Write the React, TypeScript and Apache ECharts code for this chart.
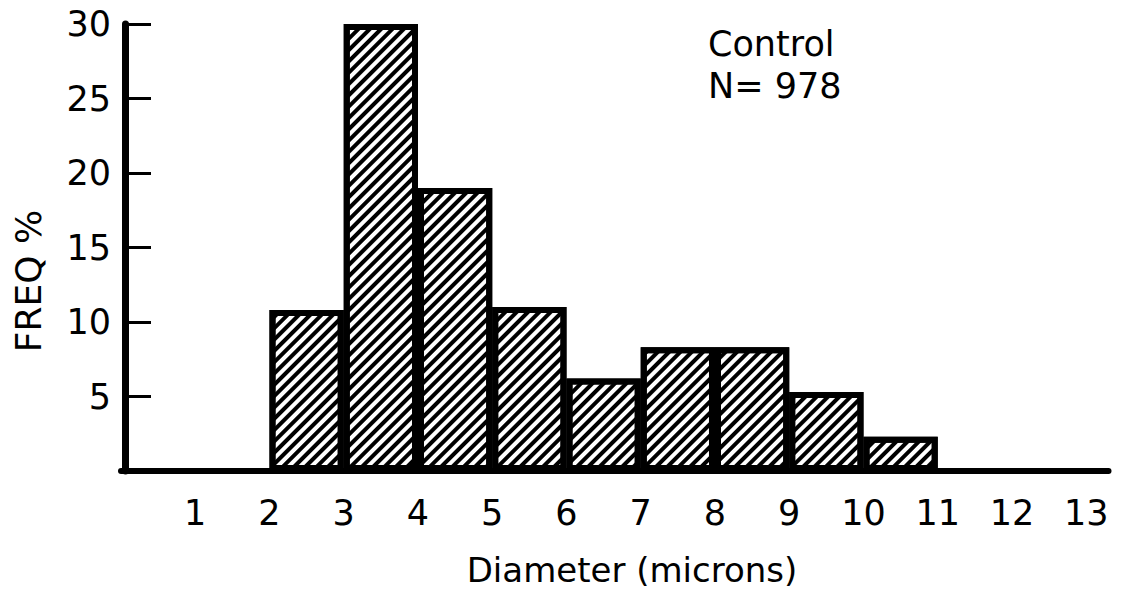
import React, { useEffect, useRef } from "react";
import * as echarts from "echarts";

// ---- data ----
const binStarts = [2, 3, 4, 5, 6, 7, 8, 9, 10];
const binWidth = 1;
const freqPercent = [10.8, 30, 19, 11, 6.2, 8.3, 8.3, 5.3, 2.3];
const xMin = 0;
const xMax = 13.3;
const yMin = 0;
const yMax = 30;
const yStep = 5;
const xStep = 1;
const groupLabel = "Control";
const sampleSize = "N= 978";
const xTitle = "Diameter (microns)";
const yTitle = "FREQ %";

const FONT = "'DejaVu Sans', sans-serif";

export default function App() {
  const ref = useRef<HTMLDivElement>(null);
  useEffect(() => {
    if (!ref.current) return;
    const chart = echarts.init(ref.current, null, { renderer: "svg" });
    const data = binStarts.map((s, i) => [s + binWidth / 2, freqPercent[i]]);
    chart.setOption({
      animation: false,
      backgroundColor: "#ffffff",
      grid: { left: 121, top: 24, right: 20.5, bottom: 125, containLabel: false },
      xAxis: {
        type: "value",
        min: xMin,
        max: xMax,
        interval: xStep,
        splitLine: { show: false },
        axisTick: { show: false },
        axisLine: { show: true, lineStyle: { color: "#000", width: 6, cap: "round" } },
        axisLabel: {
          showMinLabel: false,
          showMaxLabel: false,
          color: "#000",
          fontFamily: FONT,
          fontSize: 35,
          margin: 24,
        },
      },
      yAxis: {
        type: "value",
        min: yMin,
        max: yMax,
        interval: yStep,
        offset: -4,
        splitLine: { show: false },
        axisLine: { show: true, lineStyle: { color: "#000", width: 7, cap: "round" } },
        axisTick: { show: true, inside: true, length: 26, lineStyle: { color: "#000", width: 3 } },
        axisLabel: {
          showMinLabel: false,
          color: "#000",
          fontFamily: FONT,
          fontSize: 35,
          margin: 14,
        },
      },
      series: [
        {
          type: "bar",
          data,
          barWidth: "100%",
          itemStyle: {
            color: "#ffffff",
            borderColor: "#000",
            borderWidth: 6,
            decal: {
              symbol: "rect",
              symbolSize: 1,
              color: "#000",
              dashArrayX: [1, 0],
              dashArrayY: [4, 4],
              rotation: -Math.PI / 4,
            },
          },
        },
      ],
      graphic: [
        {
          type: "text",
          x: 708,
          y: 44,
          style: { text: groupLabel, fontFamily: FONT, fontSize: 35, fill: "#000", align: "left", verticalAlign: "middle" },
        },
        {
          type: "text",
          x: 708,
          y: 86,
          style: { text: sampleSize, fontFamily: FONT, fontSize: 35, fill: "#000", align: "left", verticalAlign: "middle" },
        },
        {
          type: "text",
          x: 632,
          y: 570,
          style: { text: xTitle, fontFamily: FONT, fontSize: 34, fill: "#000", align: "center", verticalAlign: "middle" },
        },
        {
          type: "text",
          x: 28,
          y: 281,
          rotation: Math.PI / 2,
          style: { text: yTitle, fontFamily: FONT, fontSize: 36, fill: "#000", align: "center", verticalAlign: "middle" },
        },
      ],
    });
    return () => chart.dispose();
  }, []);
  return (
    <div
      ref={ref}
      style={{ position: "absolute", left: 0, top: 0, width: 1129, height: 596 }}
    />
  );
}
